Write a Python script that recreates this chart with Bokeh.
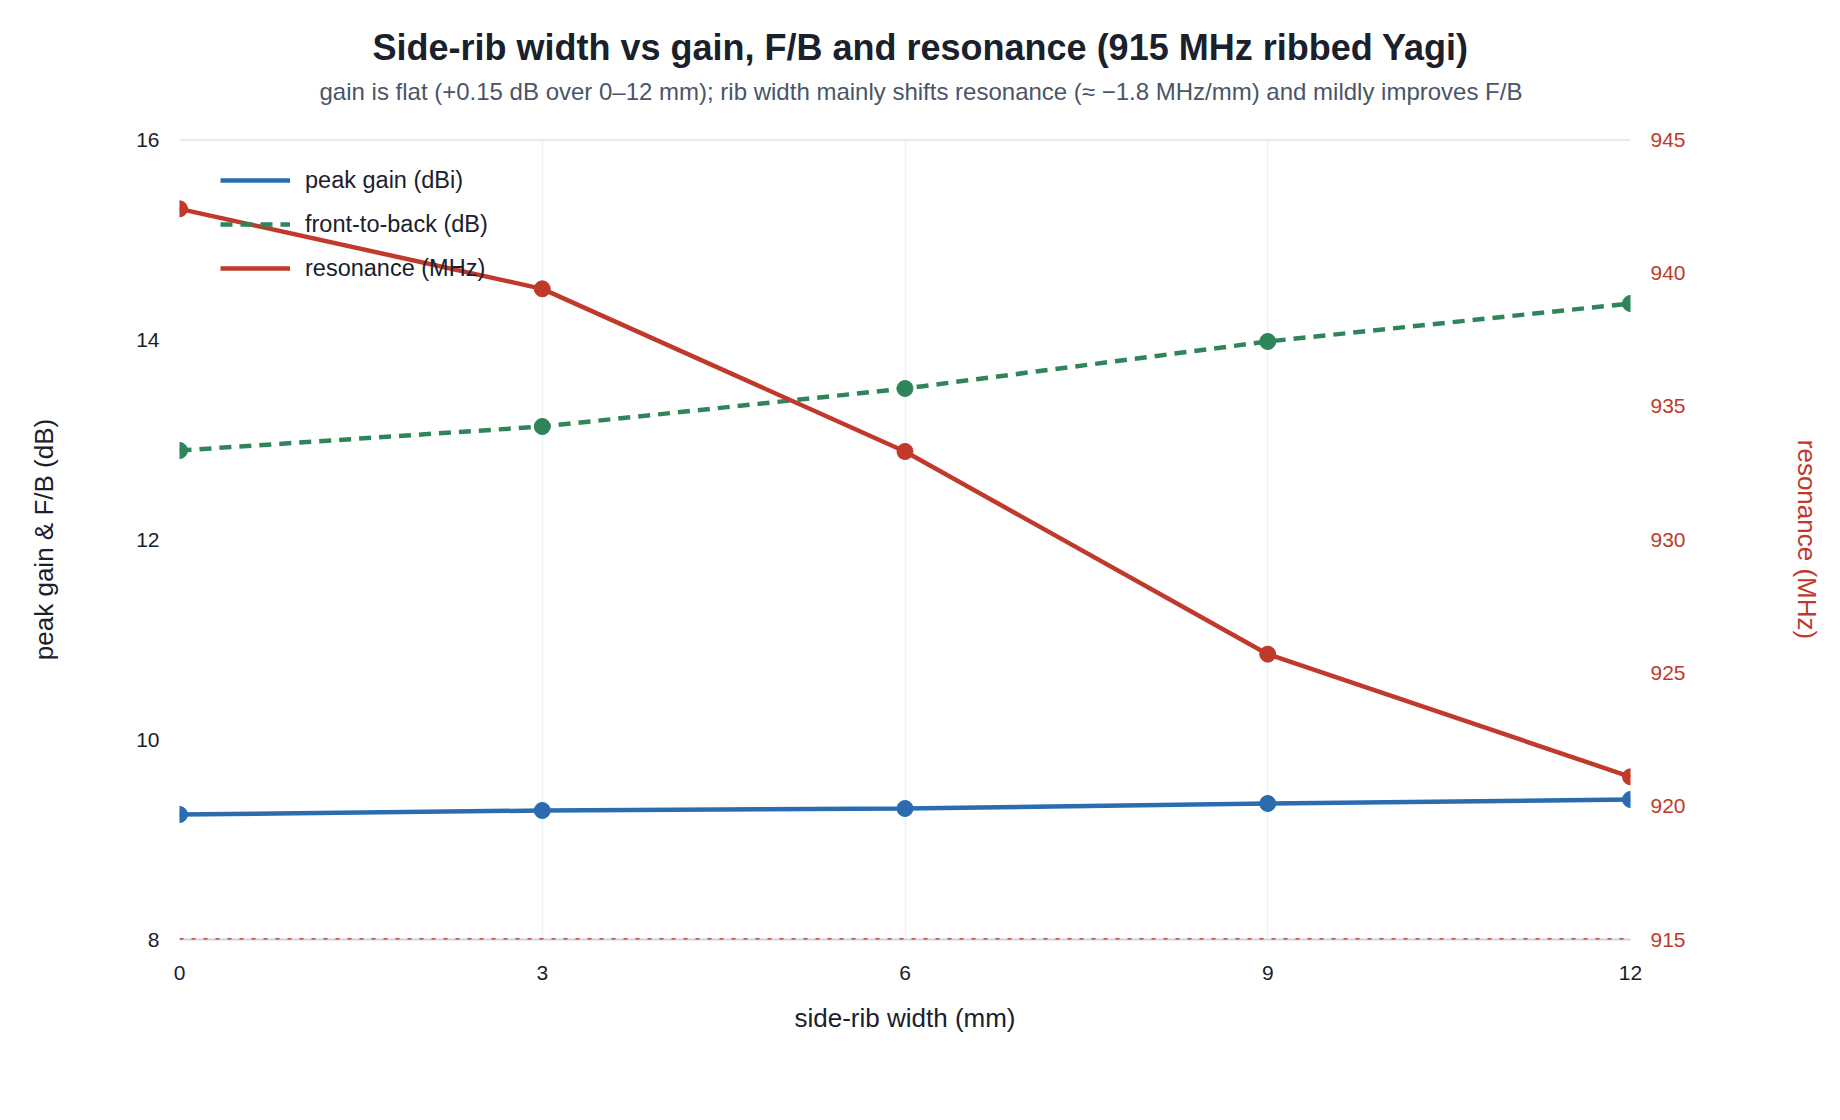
from bokeh.plotting import figure
from bokeh.models import (Range1d, LinearAxis, FixedTicker, Legend, LegendItem,
                          Span, Title)
from bokeh.embed import file_html
from bokeh.resources import INLINE

# ---- data ----
rib_width_mm = [0, 3, 6, 9, 12]
peak_gain_dbi = [9.25, 9.29, 9.31, 9.36, 9.40]
front_to_back_db = [12.89, 13.13, 13.51, 13.98, 14.36]
resonance_mhz = [942.4, 939.4, 933.3, 925.7, 921.1]
target_freq_mhz = 915

x_ticks = [0, 3, 6, 9, 12]
left_ticks = [8, 10, 12, 14, 16]
right_ticks = [915, 920, 925, 930, 935, 940, 945]

title_text = "Side-rib width vs gain, F/B and resonance (915 MHz ribbed Yagi)"
subtitle_text = ("gain is flat (+0.15 dB over 0\u201312 mm); rib width mainly shifts resonance "
                 "(\u2248 \u22121.8 MHz/mm) and mildly improves F/B")

BLUE = "#2b6cb0"
GREEN = "#2f855a"
RED = "#c0392b"
FONT = "Liberation Sans"
DARK = "#1a202c"

p = figure(width=1824, height=1100, output_backend="svg", toolbar_location=None,
           title=None,
           x_range=Range1d(x_ticks[0], x_ticks[-1]),
           y_range=Range1d(left_ticks[0], left_ticks[-1]),
           min_border_left=179, min_border_right=186,
           min_border_top=139, min_border_bottom=161)
p.extra_y_ranges = {"res": Range1d(right_ticks[0], right_ticks[-1])}
p.outline_line_color = None
p.background_fill_color = "white"
p.border_fill_color = "white"

# titles: spacer (closest to frame), subtitle, main title (centred on the canvas)
spacer = Title(text=" ", text_font=FONT, text_font_size="1px", standoff=32)
p.add_layout(spacer, "above")
sub = Title(text=subtitle_text, align="left", offset=140, text_font=FONT,
            text_font_size="24px", text_color="#4a5568", text_font_style="normal",
            standoff=0)
p.add_layout(sub, "above")
main = Title(text=title_text, align="left", offset=193, text_font=FONT,
             text_font_size="36px", text_color=DARK, text_font_style="bold",
             standoff=15)
p.add_layout(main, "above")

# grids
p.ygrid.grid_line_color = None
p.xgrid.grid_line_color = "#edf2f7"
p.xgrid.grid_line_width = 1.5
p.xgrid.ticker = FixedTicker(ticks=x_ticks)

# x axis
xa = p.xaxis[0]
xa.ticker = FixedTicker(ticks=x_ticks)
xa.axis_label = "side-rib width (mm)"
xa.axis_line_color = "#cbd5e0"
xa.axis_line_width = 2
xa.major_tick_line_color = None
xa.minor_tick_line_color = None
xa.major_tick_out = 0
xa.major_label_standoff = 26
xa.axis_label_standoff = 20
xa.major_label_text_font = FONT
xa.major_label_text_font_size = "21px"
xa.major_label_text_color = DARK
xa.axis_label_text_font = FONT
xa.axis_label_text_font_size = "26px"
xa.axis_label_text_font_style = "normal"
xa.axis_label_text_color = DARK

# left axis
ya = p.yaxis[0]
ya.ticker = FixedTicker(ticks=left_ticks)
ya.axis_label = "peak gain & F/B (dB)"
ya.axis_line_color = None
ya.major_tick_line_color = None
ya.minor_tick_line_color = None
ya.major_tick_out = 0
ya.major_label_standoff = 20
ya.axis_label_standoff = 74
ya.major_label_text_font = FONT
ya.major_label_text_font_size = "21px"
ya.major_label_text_color = DARK
ya.axis_label_text_font = FONT
ya.axis_label_text_font_size = "26px"
ya.axis_label_text_font_style = "normal"
ya.axis_label_text_color = DARK

# right axis
ra = LinearAxis(y_range_name="res", ticker=FixedTicker(ticks=right_ticks),
                axis_label="resonance (MHz)")
ra.axis_line_color = None
ra.major_tick_line_color = None
ra.minor_tick_line_color = None
ra.major_tick_out = 0
ra.major_label_standoff = 20
ra.axis_label_standoff = 103
ra.major_label_text_font = FONT
ra.major_label_text_font_size = "21px"
ra.major_label_text_color = RED
ra.axis_label_text_font = FONT
ra.axis_label_text_font_size = "26px"
ra.axis_label_text_font_style = "normal"
ra.axis_label_text_color = RED
p.add_layout(ra, "right")

# top border line and target-frequency reference line
p.add_layout(Span(location=left_ticks[-1], dimension="width", line_color="#cbd5e0",
                  line_width=2))
p.add_layout(Span(location=target_freq_mhz, dimension="width", y_range_name="res",
                  line_color=RED, line_alpha=0.9, line_width=3, line_dash="4 8"))

# series
g_line = p.line(rib_width_mm, peak_gain_dbi, line_color=BLUE, line_width=4.5)
p.scatter(rib_width_mm, peak_gain_dbi, size=16, fill_color=BLUE, line_color=BLUE)

f_line = p.line(rib_width_mm, front_to_back_db, line_color=GREEN, line_width=4.5,
                line_dash="12 8")
p.scatter(rib_width_mm, front_to_back_db, size=16, fill_color=GREEN, line_color=GREEN)

r_line = p.line(rib_width_mm, resonance_mhz, line_color=RED, line_width=4.5,
                y_range_name="res")
p.scatter(rib_width_mm, resonance_mhz, size=16, fill_color=RED, line_color=RED,
          y_range_name="res")

legend = Legend(items=[
    LegendItem(label="peak gain (dBi)", renderers=[g_line]),
    LegendItem(label="front-to-back (dB)", renderers=[f_line]),
    LegendItem(label="resonance (MHz)", renderers=[r_line]),
], location=(41, 657))
legend.margin = 0
legend.padding = 0
legend.border_line_color = None
legend.background_fill_alpha = 0
legend.glyph_width = 70
legend.glyph_height = 28
legend.label_height = 28
legend.spacing = 16
legend.label_standoff = 15
legend.label_text_font = FONT
legend.label_text_font_size = "23.5px"
legend.label_text_color = DARK
p.add_layout(legend, "center")

open("out.html", "w").write(file_html(p, INLINE))
